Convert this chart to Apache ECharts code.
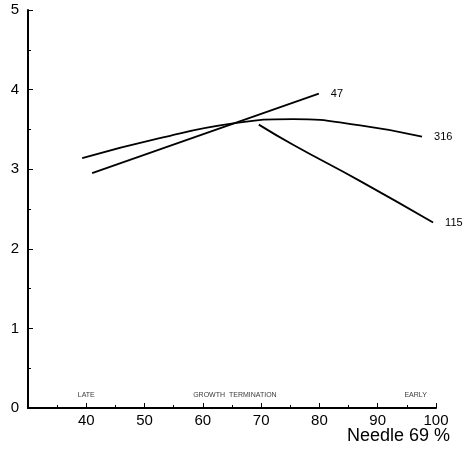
<!DOCTYPE html>
<html><head><meta charset="utf-8">
<script src="https://cdn.jsdelivr.net/npm/echarts@6/dist/echarts.min.js"></script>
<style>html,body{margin:0;padding:0;background:#fff}#c{width:466px;height:451px}</style>
</head><body><div id="c"></div>
<script>
var xTicks = [40, 50, 60, 70, 80, 90, 100];
var yTicks = [0, 1, 2, 3, 4, 5];
var s316 = [[39.3,3.14],[52.6,3.39],[65.2,3.575],[75.5,3.63],[87,3.55],[97.6,3.41]];
var s47 = [[41,2.95],[79.9,3.95]];
var s115 = [[69.6,3.56],[75.4,3.31],[87,2.85],[99.5,2.33]];
var seriesNames = ['316','47','115'];
var zoneLabels = [['LATE',40],['GROWTH  TERMINATION',65.5],['EARLY',96.5]];

var chart = echarts.init(document.getElementById('c'));
var font = 'Liberation Sans, Arial, sans-serif';
function mk(name, data){
  return {type:'line', name:name, data:data, smooth:0.5, symbol:'none',
    lineStyle:{color:'#000', width:1.8},
    endLabel:{show:true, formatter:name, color:'#000', fontSize:11, fontFamily:font, distance:12},
    silent:true};
}
var zoneSeries = {type:'scatter', symbol:'circle', symbolSize:1, silent:true,
  itemStyle:{color:'rgba(0,0,0,0)'},
  data: zoneLabels.map(function(z){return {value:[z[1],0], name:z[0]};}),
  label:{show:true, position:'top', distance:9, formatter:function(p){return p.name;}, fontSize:7, color:'#000', fontFamily:font}
};
chart.setOption({
  animation:false,
  grid:{left:28, right:30, top:10, bottom:43},
  xAxis:{type:'value', min:30, max:100, interval:10,
    axisLine:{lineStyle:{color:'#000', width:2}},
    axisTick:{inside:true, length:5, lineStyle:{color:'#000'}},
    minorTick:{show:true, splitNumber:2, length:3, lineStyle:{color:'#000'}},
    axisLabel:{showMinLabel:false, color:'#000', fontSize:15, fontFamily:font, margin:5,
      formatter:function(v){return xTicks.indexOf(v)>=0 ? String(v) : '';}},
    splitLine:{show:false}},
  yAxis:{type:'value', min:0, max:5, interval:1,
    axisLine:{lineStyle:{color:'#000', width:2}},
    axisTick:{inside:true, length:5, lineStyle:{color:'#000'}},
    minorTick:{show:true, splitNumber:2, length:3, lineStyle:{color:'#000'}},
    axisLabel:{color:'#000', fontSize:15, fontFamily:font, margin:9,
      formatter:function(v){return yTicks.indexOf(v)>=0 ? String(v) : '';}},
    splitLine:{show:false}},
  graphic:[{type:'text', right:16, top:427, style:{text:'Needle 69 %', fontSize:18, fontFamily:font, fill:'#000'}}],
  series:[mk(seriesNames[0], s316), mk(seriesNames[1], s47), mk(seriesNames[2], s115), zoneSeries]
});
</script></body></html>
